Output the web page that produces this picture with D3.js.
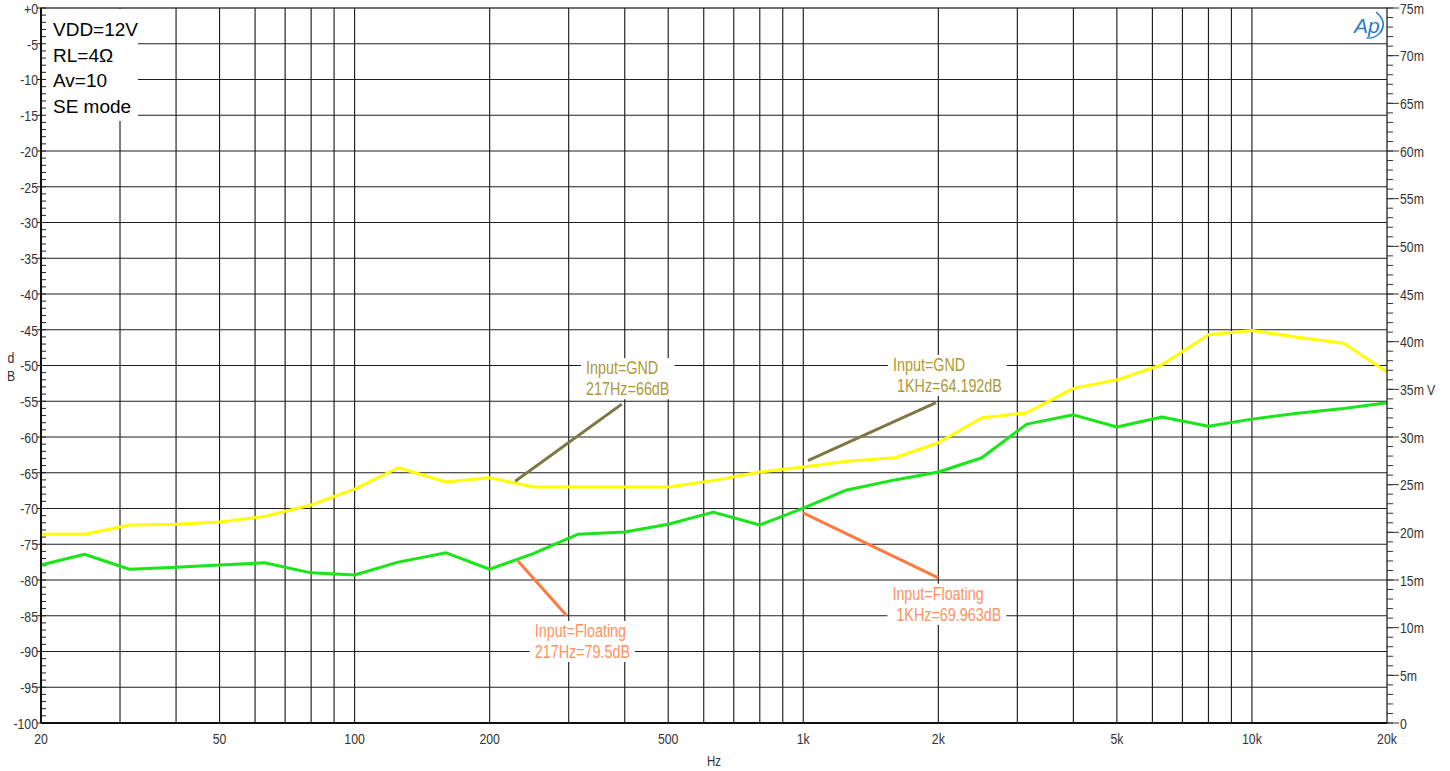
<!DOCTYPE html>
<html>
<head>
<meta charset="utf-8">
<script src="https://cdn.jsdelivr.net/npm/d3@7"></script>
<style>
  body { margin: 0; background: #fff; }
  svg { display: block; }
</style>
</head>
<body>
<svg id="chart" width="1450" height="771"></svg>
<script>
// 1/3-octave measurement frequencies (Hz)
const freqs = [20, 25, 31.5, 40, 50, 63, 80, 100, 125, 160, 200, 250, 315, 400, 500, 630, 800,
  1000, 1250, 1600, 2000, 2500, 3150, 4000, 5000, 6300, 8000, 10000, 12500, 16000, 20000];

// Noise level (dB) with the input grounded
const gndDb = [-73.6, -73.6, -72.3, -72.2, -71.9, -71.1, -69.5, -67.3, -64.3, -66.3, -65.7,
  -67.0, -67.0, -67.0, -67.0, -66.1, -64.9, -64.19, -63.4, -62.9, -60.8, -57.3, -56.6,
  -53.2, -52.0, -49.9, -45.7, -45.1, -46.0, -46.9, -50.9];

// Noise level (dB) with the input left floating
const floatDb = [-77.9, -76.4, -78.5, -78.2, -77.9, -77.6, -79.0, -79.3, -77.5, -76.2, -78.5,
  -76.3, -73.6, -73.3, -72.2, -70.5, -72.3, -69.96, -67.4, -66.0, -64.9, -62.9, -58.2,
  -56.9, -58.6, -57.2, -58.5, -57.5, -56.7, -56.0, -55.2];

// Axis ticks
const dbTicks = d3.range(0, -101, -5);
const dbMinorTicks = d3.range(0, -101, -1);
const voltTicks = d3.range(0, 16).map(i => i * 0.005);
const voltMinorTicks = d3.range(0, 76).map(i => i * 0.001);
const freqTickLabels = [20, 50, 100, 200, 500, 1000, 2000, 5000, 10000, 20000];
const freqGrid = [30, 40, 50, 60, 70, 80, 90, 100, 200, 300, 400, 500, 600, 700, 800, 900,
  1000, 2000, 3000, 4000, 5000, 6000, 7000, 8000, 9000, 10000];

// Test conditions
const infoLines = ["VDD=12V", "RL=4Ω", "Av=10", "SE mode"];

// Callouts: leader from a point near the curve to the label, label anchor (Hz, dB)
const notes = [
  { lines: ["Input=GND", "217Hz=66dB"], text: "#ad9833", lead: "#7b7846",
    from: [228, -66.2], to: [394, -55.4], at: [328, -51.25] },
  { lines: ["Input=GND", " 1KHz=64.192dB"], text: "#ad9833", lead: "#7b7846",
    from: [1024, -63.3], to: [1976, -55.2], at: [1585, -50.8] },
  { lines: ["Input=Floating", "217Hz=79.5dB"], text: "#ff9260", lead: "#ff7a40",
    from: [231, -77.3], to: [297, -85.0], at: [252, -88.0] },
  { lines: ["Input=Floating", " 1KHz=69.963dB"], text: "#ff9260", lead: "#ff7a40",
    from: [999, -70.6], to: [2000, -79.7], at: [1580, -82.8] }
];

const W = 1450, H = 771;
const L = 41, R = 1387, T = 8, B = 723;
const svg = d3.select("#chart");
const sans = "'Liberation Sans', Arial, sans-serif";
const SQUEEZE = 0.82; // condensed look of the analyzer's label font

const x = d3.scaleLog().domain([20, 20000]).range([L, R]);
const y = d3.scaleLinear().domain([-100, 0]).range([B, T]);
const yV = d3.scaleLinear().domain([0, 0.075]).range([B, T]);

// place condensed text at (px, py)
function placeNarrow(sel, px, py) {
  return sel.attr("x", 0).attr("y", 0)
    .attr("transform", (d, i) => `translate(${px(d, i)},${py(d, i)}) scale(${SQUEEZE},1)`);
}

svg.append("rect").attr("width", W).attr("height", H).attr("fill", "#fff");

// Grid
const grid = svg.append("g").attr("stroke", "#1e1e1e").attr("stroke-width", 1.15);
grid.selectAll("line.v").data(freqGrid).join("line")
  .attr("x1", d => x(d)).attr("x2", d => x(d)).attr("y1", T).attr("y2", B);
grid.selectAll("line.h").data(dbTicks.filter(d => d > -100 && d < 0)).join("line")
  .attr("x1", L).attr("x2", R).attr("y1", d => y(d)).attr("y2", d => y(d));

// Test-condition box
svg.append("rect").attr("x", L + 1).attr("y", T + 1).attr("width", 96).attr("height", 112)
  .attr("fill", "#fff");
svg.append("g").selectAll("text").data(infoLines).join("text")
  .attr("x", 53).attr("y", (d, i) => 36 + i * 25.5)
  .attr("font-family", sans).attr("font-size", 19).attr("fill", "#000")
  .text(d => d);

// Left axis (dB)
const leftAxis = svg.append("g");
leftAxis.selectAll("line.minor").data(dbMinorTicks).join("line")
  .attr("x1", L).attr("x2", L + 5).attr("y1", d => y(d)).attr("y2", d => y(d))
  .attr("stroke", "#222").attr("stroke-width", 1);
leftAxis.selectAll("line.major").data(dbTicks).join("line")
  .attr("x1", L - 4).attr("x2", L).attr("y1", d => y(d)).attr("y2", d => y(d))
  .attr("stroke", "#222").attr("stroke-width", 1);
placeNarrow(leftAxis.selectAll("text").data(dbTicks).join("text"), () => L - 3, d => y(d) + 1)
  .attr("dy", "0.32em").attr("text-anchor", "end")
  .attr("font-family", sans).attr("font-size", 15).attr("fill", "#333")
  .text(d => d === 0 ? "+0" : d);

// Right axis (V)
const rightAxis = svg.append("g");
rightAxis.selectAll("line.minor").data(voltMinorTicks).join("line")
  .attr("x1", R).attr("x2", R + 6).attr("y1", d => yV(d)).attr("y2", d => yV(d))
  .attr("stroke", "#333").attr("stroke-width", 1);
rightAxis.selectAll("line.major").data(voltTicks).join("line")
  .attr("x1", R).attr("x2", R + 12).attr("y1", d => yV(d)).attr("y2", d => yV(d))
  .attr("stroke", "#333").attr("stroke-width", 1);
placeNarrow(rightAxis.selectAll("text").data(voltTicks).join("text"), () => R + 13, d => yV(d) + 1)
  .attr("dy", "0.32em")
  .attr("font-family", sans).attr("font-size", 15).attr("fill", "#333")
  .text(d => d === 0 ? "0" : Math.round(d * 1000) + "m");
placeNarrow(svg.append("text").datum(0.035), () => 1427, d => yV(d) + 1).attr("dy", "0.32em")
  .attr("font-family", sans).attr("font-size", 15).attr("fill", "#333").text("V");

// Bottom axis (Hz)
placeNarrow(svg.append("g").selectAll("text").data(freqTickLabels).join("text"), d => x(d), () => 744)
  .attr("text-anchor", "middle")
  .attr("font-family", sans).attr("font-size", 15).attr("fill", "#333")
  .text(d => d >= 1000 ? (d / 1000) + "k" : d);
placeNarrow(svg.append("text"), () => (L + R) / 2, () => 766).attr("text-anchor", "middle")
  .attr("font-family", sans).attr("font-size", 14).attr("fill", "#333").text("Hz");
placeNarrow(svg.append("text"), () => 11, () => 363).attr("text-anchor", "middle")
  .attr("font-family", sans).attr("font-size", 15).attr("fill", "#333").text("d");
placeNarrow(svg.append("text"), () => 11, () => 381).attr("text-anchor", "middle")
  .attr("font-family", sans).attr("font-size", 15).attr("fill", "#333").text("B");

// Curves
const line = d3.line().x(d => x(d[0])).y(d => y(d[1]));
svg.append("path").datum(freqs.map((f, i) => [f, gndDb[i]]))
  .attr("d", line).attr("fill", "none").attr("stroke", "#ffff00")
  .attr("stroke-width", 3).attr("stroke-linejoin", "round");
svg.append("path").datum(freqs.map((f, i) => [f, floatDb[i]]))
  .attr("d", line).attr("fill", "none").attr("stroke", "#19e619")
  .attr("stroke-width", 3).attr("stroke-linejoin", "round");

// Callouts
notes.forEach(n => {
  const g = svg.append("g");
  const bg = g.append("rect").attr("fill", "#fff");
  const t = g.append("g");
  placeNarrow(t.selectAll("text").data(n.lines).join("text"),
      () => x(n.at[0]), (d, i) => y(n.at[1]) + i * 20.5)
    .attr("font-family", sans).attr("font-size", 17.5).attr("fill", n.text)
    .attr("xml:space", "preserve").style("white-space", "pre")
    .text(d => d);
  const bb = t.node().getBBox();
  bg.attr("x", bb.x - 5).attr("y", bb.y - 1).attr("width", bb.width + 10).attr("height", bb.height + 2);
  svg.append("line")
    .attr("x1", x(n.from[0])).attr("y1", y(n.from[1]))
    .attr("x2", x(n.to[0])).attr("y2", y(n.to[1]))
    .attr("stroke", n.lead).attr("stroke-width", 3);
});

// Frame
svg.append("rect").attr("x", L).attr("y", T).attr("width", R - L).attr("height", B - T)
  .attr("fill", "none").attr("stroke", "#222").attr("stroke-width", 1.3);
svg.append("line").attr("x1", L).attr("x2", R).attr("y1", B).attr("y2", B)
  .attr("stroke", "#111").attr("stroke-width", 2);
svg.append("line").attr("x1", L).attr("x2", L).attr("y1", T).attr("y2", B)
  .attr("stroke", "#111").attr("stroke-width", 2);

// Ap logo
const logo = svg.append("g").attr("fill", "none").attr("stroke", "#2a7cc4");
svg.append("text").attr("x", 1354).attr("y", 33)
  .attr("font-family", sans).attr("font-style", "italic").attr("font-size", 21)
  .attr("fill", "#2a7cc4").text("Ap");
logo.append("path").attr("d", "M1376,12 Q1388,22 1380,33").attr("stroke-width", 1.6);
logo.append("path").attr("d", "M1380,33 Q1374,39 1366,38").attr("stroke-width", 1.2);
</script>
</body>
</html>
